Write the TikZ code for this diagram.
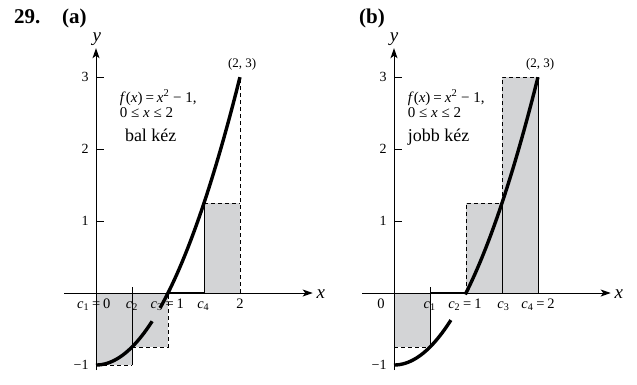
\documentclass[tikz,border=0pt]{standalone}
\usepackage{fontspec}
\setmainfont{Liberation Serif}
\usetikzlibrary{arrows.meta}
\definecolor{rectgray}{RGB}{211,212,214}
\tikzset{
  axisline/.style={line width=1pt, -{Stealth[length=10pt,width=7pt,inset=2.5pt]}},
  curveline/.style={line width=3.4pt},
  solidedge/.style={line width=0.9pt},
  dashedge/.style={line width=0.9pt, dash pattern=on 4pt off 3pt},
  zeroseg/.style={line width=2.2pt},
  bar/.style={fill=rectgray, draw=none},
  ytickmark/.style={line width=0.9pt},
  ticklab/.style={font=\fontsize{14}{14}\selectfont, inner sep=0pt},
  xlab/.style={font=\fontsize{14.5}{14}\selectfont, inner sep=0pt, anchor=base},
  axlab/.style={font=\fontsize{19}{19}\selectfont\itshape, inner sep=0pt},
  ptlab/.style={font=\fontsize{13}{13}\selectfont, inner sep=0pt},
  formula/.style={font=\fontsize{15}{15}\selectfont, inner sep=0pt, anchor=base west},
  kezlab/.style={font=\fontsize{18}{18}\selectfont, inner sep=0pt, anchor=base west},
  head/.style={font=\fontsize{21}{21}\selectfont\bfseries, inner sep=0pt, anchor=base west},
}
\newcommand{\ci}[1]{\textit{c}\textsubscript{#1}}
\newcommand{\eqs}{\hspace{0.2em}=\hspace{0.2em}}
\begin{document}
\begin{tikzpicture}[x=1pt,y=1pt]
\useasboundingbox (0,0) rectangle (637,-384);
\node[head] (h29) at (14,-23) {29.};
\node[head] (ha) at (62,-23) {(a)};
\node[head] (hb) at (359,-23) {(b)};

% ---------------- panel (a) ----------------
\begin{scope}[shift={(96pt,-293pt)}, x=72pt, y=72pt]
  \fill[bar] (0,-1) rectangle (0.5,0);
  \fill[bar] (0.5,-0.75) rectangle (1,0);
  \fill[bar] (1.5,0) rectangle (2,1.25);
  \coordinate (aR1bl) at (0,-1);
  \coordinate (aR1br) at (0.5,-1);
  \coordinate (aR1tk) at (0.5,0.08);
  \coordinate (aR2bl) at (0.5,-0.75);
  \coordinate (aR2br) at (1,-0.75);
  \coordinate (aR2tr) at (1,0);
  \coordinate (aZ1) at (1,0);
  \coordinate (aZ2) at (1.5,0);
  \coordinate (aR4tl) at (1.5,1.25);
  \coordinate (aR4tr) at (2,1.25);
  \coordinate (aR4br) at (2,0);
  \coordinate (aP) at (2,3);
  \draw[dashedge] (aR1bl) -- (aR1br);
  \draw[solidedge] (aR1br) -- (aR1tk);
  \draw[dashedge] (aR2bl) -- (aR2br) -- (aR2tr);
  \draw[solidedge] (aZ2) -- (aR4tl);
  \draw[dashedge] (aR4tl) -- (aR4tr);
  \draw[dashedge] (aR4br) -- (aP);
  % axes
  \coordinate (axs) at (-0.44,0);
  \coordinate (axe) at (3.01,0);
  \coordinate (ays) at (0,-1.07);
  \coordinate (aye) at (0,3.40);
  \draw[axisline] (axs) -- (axe);
  \draw[axisline] (ays) -- (aye);
  \node[axlab, anchor=west] (axl) at (3.06,-0.02) {x};
  \node[axlab, anchor=south] (ayl) at (0.01,3.43) {y};
  \foreach \k in {1,2,3} {
    \draw[ytickmark] (0,\k) -- (0.11,\k);
    \node[ticklab, anchor=east] (aty\k) at (-0.1,\k) {\k};
  }
  \node[ticklab, anchor=east] (atym) at (-0.1,-1) {−1};
  \draw[zeroseg] (aZ1) -- (aZ2);
  % curve
  \draw[curveline] plot[domain=0:0.78, samples=40] (\x,{\x*\x-1});
  \draw[curveline] plot[domain=0.89:2, samples=50] (\x,{\x*\x-1});
  % x labels
  \node[xlab] (ac1) at (-0.03,-0.21) {\ci{1}\eqs0};
  \node[xlab] (ac2) at (0.5,-0.21) {\ci{2}};
  \node[xlab] (ac3) at (0.99,-0.21) {\ci{3}\eqs1};
  \node[xlab] (ac4) at (1.49,-0.21) {\ci{4}};
  \node[xlab] (ax2) at (2.0,-0.21) {2};
  \node[ptlab] (apt) at (2.03,3.17) {(2, 3)};
  \node[formula] (af1) at (0.33,2.65) {\textit{f}(\textit{x})\eqs\textit{x}\textsuperscript{2} − 1,};
  \node[formula] (af2) at (0.33,2.44) {0 ≤ \textit{x} ≤ 2};
  \node[kezlab] (akz) at (0.40,2.11) {bal kéz};
\end{scope}

% ---------------- panel (b) ----------------
\begin{scope}[shift={(394pt,-293pt)}, x=72pt, y=72pt]
  \fill[bar] (0,-0.75) rectangle (0.5,0);
  \fill[bar] (1,0) rectangle (1.5,1.25);
  \fill[bar] (1.5,0) rectangle (2,3);
  \coordinate (bR1bl) at (0,-0.75);
  \coordinate (bR1br) at (0.5,-0.75);
  \coordinate (bR1tk) at (0.5,0.08);
  \coordinate (bZ1) at (0.5,0);
  \coordinate (bZ2) at (1,0);
  \coordinate (bR3tl) at (1,1.25);
  \coordinate (bR3tr) at (1.5,1.25);
  \coordinate (bR3br) at (1.5,0);
  \coordinate (bR4tl) at (1.5,3);
  \coordinate (bP) at (2,3);
  \coordinate (bR4br) at (2,0);
  \draw[dashedge] (bR1bl) -- (bR1br);
  \draw[solidedge] (bR1br) -- (bR1tk);
  \draw[dashedge] (bZ2) -- (bR3tl) -- (bR3tr);
  \draw[solidedge] (bR3br) -- (bR3tr);
  \draw[dashedge] (bR3tr) -- (bR4tl) -- (bP);
  \draw[solidedge] (bR4br) -- (bP);
  % axes
  \coordinate (bxs) at (-0.44,0);
  \coordinate (bxe) at (3.01,0);
  \coordinate (bys) at (0,-1.07);
  \coordinate (bye) at (0,3.40);
  \draw[axisline] (bxs) -- (bxe);
  \draw[axisline] (bys) -- (bye);
  \node[axlab, anchor=west] (bxl) at (3.06,-0.02) {x};
  \node[axlab, anchor=south] (byl) at (0.0,3.43) {y};
  \foreach \k in {1,2,3} {
    \draw[ytickmark] (0,\k) -- (0.11,\k);
    \node[ticklab, anchor=east] (bty\k) at (-0.1,\k) {\k};
  }
  \node[ticklab, anchor=east] (btym) at (-0.1,-1) {−1};
  \draw[zeroseg] (bZ1) -- (bZ2);
  % curve
  \draw[curveline] plot[domain=0:0.79, samples=40] (\x,{\x*\x-1});
  \draw[curveline] plot[domain=0.99:2, samples=50] (\x,{\x*\x-1});
  % x labels
  \node[xlab] (b0) at (-0.18,-0.21) {0};
  \node[xlab] (bc1) at (0.495,-0.21) {\ci{1}};
  \node[xlab] (bc2) at (0.985,-0.21) {\ci{2}\eqs1};
  \node[xlab] (bc3) at (1.52,-0.21) {\ci{3}};
  \node[xlab] (bc4) at (2.0,-0.21) {\ci{4}\eqs2};
  \node[ptlab] (bpt) at (2.03,3.17) {(2, 3)};
  \node[formula] (bf1) at (0.19,2.65) {\textit{f}(\textit{x})\eqs\textit{x}\textsuperscript{2} − 1,};
  \node[formula] (bf2) at (0.19,2.44) {0 ≤ \textit{x} ≤ 2};
  \node[kezlab] (bkz) at (0.19,2.11) {jobb kéz};
\end{scope}
\end{tikzpicture}
\end{document}
